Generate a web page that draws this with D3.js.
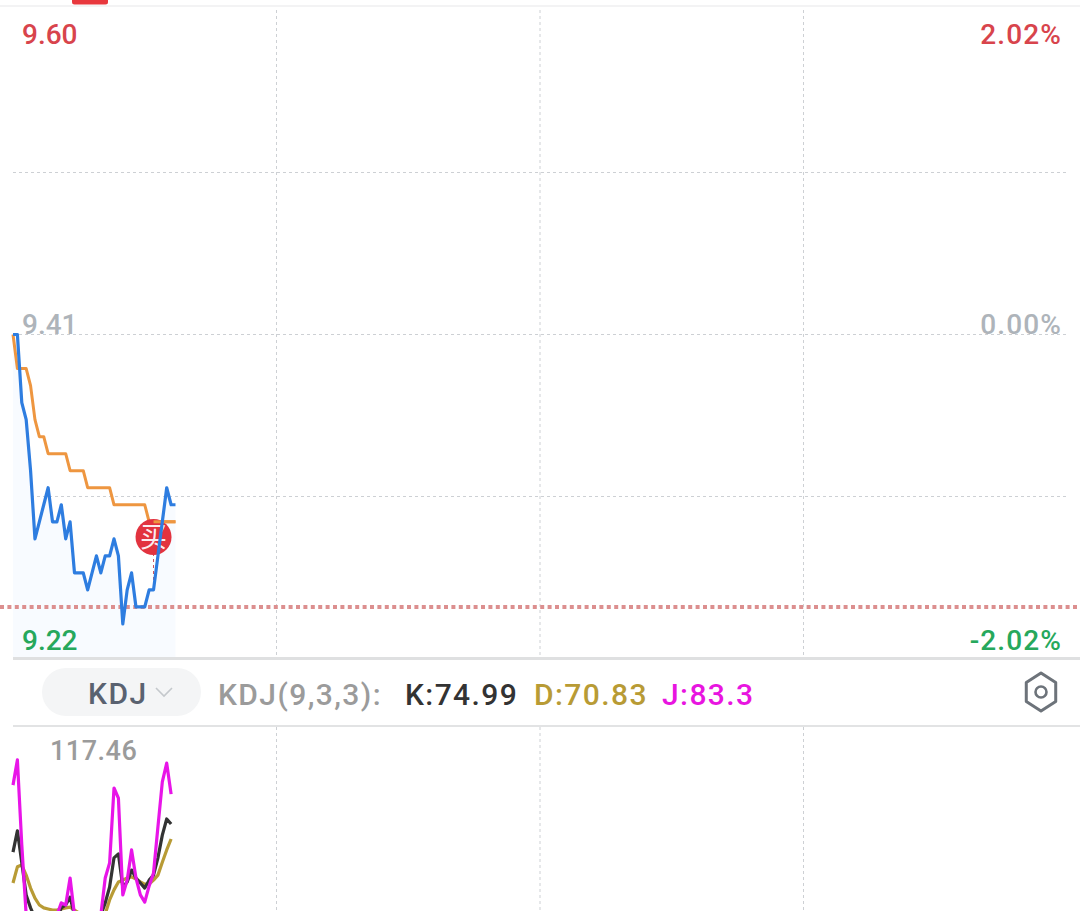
<!DOCTYPE html>
<html><head><meta charset="utf-8">
<script src="https://cdn.jsdelivr.net/npm/d3@7"></script>
<style>html,body{margin:0;padding:0;background:#fff;overflow:hidden}svg{display:block}text{font-family:Roboto,"Noto Sans CJK SC",sans-serif}</style>
</head><body><svg id="c" width="1080" height="911"></svg>
<script>
const priceLine=[9.41,9.41,9.37,9.36,9.33,9.29,9.30,9.31,9.32,9.30,9.30,9.31,9.29,9.30,9.27,9.27,9.27,9.26,9.27,9.28,9.27,9.28,9.28,9.29,9.28,9.24,9.26,9.27,9.25,9.25,9.25,9.26,9.26,9.28,9.30,9.32,9.31,9.31];
const avgLine=[9.41,9.39,9.39,9.39,9.38,9.36,9.35,9.35,9.34,9.34,9.34,9.34,9.34,9.33,9.33,9.33,9.33,9.32,9.32,9.32,9.32,9.32,9.32,9.31,9.31,9.31,9.31,9.31,9.31,9.31,9.31,9.30,9.30,9.30,9.30,9.30,9.30,9.30];
const kValues=[67.2,73.1,64.2,55.3,51.7,48.9,47,46,46,47,48.9,51.7,52.5,54.7,49.7,48,47,46,46,47,49.7,53.1,57.5,65.6,66.7,57.5,58.9,62.2,60,58.6,57.2,59.4,60.8,65.6,71.9,76.4,74.99];
const dValues=[58.6,63.1,63.6,60.8,57.2,54.4,52.5,51.7,51.4,51.1,51.1,51.4,51.7,51.9,51.1,50.3,49.4,48.9,48.9,48.9,49.4,50,53.9,56.7,58.9,59.4,60,60.3,59.7,58.9,58.3,58.3,59.4,60.8,64.4,67.8,70.83];
const jValues=[85.8,92.8,69.2,49.7,45,40,38,38,40,44,49.7,53.1,52.5,60,49.7,45,41,39,41,45,49.7,60,64.2,85,82.2,55.3,59.4,67.8,60,55.3,53.3,57.8,61.4,74.2,86.7,91.9,83.3];
const timeTicks=[60,120,180];
const priceGrid=[9.505,9.41,9.315];
const leftLabels=[["9.60",44,"#d8444c"],["9.41",334,"#aeb4ba"],["9.22",650,"#26a85c"]];
const rightLabels=[["2.02%",44,"#d8444c"],["0.00%",334,"#aeb4ba"],["-2.02%",650,"#26a85c"]];
const lowPrice=9.25, buyIndex=32;

const svg=d3.select("#c");
const x=d3.scaleLinear().domain([0,240]).range([13,1067]);
const y=d3.scaleLinear().domain([9.22,9.60]).range([658,11]);
const yK=d3.scaleLinear().domain([0,100]).range([1094,734]);

// frame
svg.append("rect").attr("x",0).attr("y",5).attr("width",1080).attr("height",2).attr("fill","#f3f3f4");
svg.append("rect").attr("x",72).attr("y",-4).attr("width",36).attr("height",8.5).attr("rx",2.5).attr("fill","#e8383d");

const grid="#cdd0d4";
// vertical grid
timeTicks.forEach(t=>{
  [[10,657],[727,911]].forEach(([a,b])=>svg.append("line").attr("x1",x(t)).attr("x2",x(t)).attr("y1",a).attr("y2",b)
    .attr("stroke",grid).attr("stroke-width",1).attr("stroke-dasharray","3 3"));
});
// horizontal grid
priceGrid.forEach(p=>svg.append("line").attr("x1",13).attr("x2",1067).attr("y1",Math.floor(y(p))+.5).attr("y2",Math.floor(y(p))+.5)
  .attr("stroke",grid).attr("stroke-width",1).attr("stroke-dasharray","3 3"));

// area under price
svg.append("path").datum(priceLine)
  .attr("d",d3.area().x((d,i)=>x(i)).y0(657).y1(d=>y(d)))
  .attr("fill","#f8fbff");

// low price line
svg.append("line").attr("x1",0).attr("x2",1080).attr("y1",y(lowPrice)).attr("y2",y(lowPrice))
  .attr("stroke","#dc8f8f").attr("stroke-width",4).attr("stroke-dasharray","4 3.4");

const lp=d3.line().x((d,i)=>x(i)).y(d=>y(d));
svg.append("path").datum(avgLine).attr("d",lp).attr("fill","none").attr("stroke","#ee9640").attr("stroke-width",3).attr("stroke-linejoin","round");

// buy marker
const mx=x(buyIndex);
svg.append("line").attr("x1",mx).attr("x2",mx).attr("y1",553).attr("y2",y(priceLine[buyIndex]))
  .attr("stroke","#c8505a").attr("stroke-width",1).attr("stroke-dasharray","3 3");
svg.append("circle").attr("cx",mx).attr("cy",537).attr("r",18).attr("fill","#e2333f");
svg.append("text").attr("x",mx).attr("y",547).attr("text-anchor","middle").attr("font-size",27).attr("fill","#fff").attr("fill-opacity",.92)
  .style("font-family",'"Noto Sans CJK SC"').text("买");
// average line continues over the marker from the buy point
svg.append("path").datum(avgLine.slice(buyIndex))
  .attr("d",d3.line().x((d,i)=>x(i+buyIndex)).y(d=>y(d))).attr("fill","none").attr("stroke","#ee9640").attr("stroke-width",3);

svg.append("path").datum(priceLine).attr("d",lp).attr("fill","none").attr("stroke","#2e7de0").attr("stroke-width",3.2).attr("stroke-linejoin","round");

// axis labels
leftLabels.forEach(([t,py,c])=>{
  svg.append("text").attr("x",22).attr("y",py).attr("font-size",28).attr("font-weight",500).attr("fill",c).text(t);
});
rightLabels.forEach(([t,py,c])=>{
  svg.append("text").attr("x",1062).attr("y",py).attr("text-anchor","end").attr("font-size",28).attr("font-weight",500).attr("letter-spacing",1.1).attr("fill",c).text(t);
});

// separators
svg.append("rect").attr("x",13).attr("y",657).attr("width",1067).attr("height",3).attr("fill","#dfe0e1");
svg.append("rect").attr("x",13).attr("y",725).attr("width",1067).attr("height",2).attr("fill","#e2e3e4");

// indicator bar
svg.append("rect").attr("x",42).attr("y",668).attr("width",159).attr("height",48).attr("rx",24).attr("fill","#f4f5f6");
svg.append("text").attr("x",88).attr("y",704).attr("font-size",30).attr("font-weight",500).attr("letter-spacing",1.5).attr("fill","#5a6270").text("KDJ");
svg.append("path").attr("d","M156 688l8 8l8-8").attr("fill","none").attr("stroke","#c4c8cc").attr("stroke-width",1.6);
const legend=[["KDJ(9,3,3):",218,"#9b9b9b"],["K:74.99",405,"#333333"],["D:70.83",534,"#b89b35"],["J:83.3",662,"#e815e0"]];
legend.forEach(([t,lx,c])=>svg.append("text").attr("x",lx).attr("y",705).attr("font-size",30).attr("font-weight",500).attr("letter-spacing",1.4).attr("fill",c).text(t));

// settings icon
const hex=d3.range(6).map(i=>{const a=Math.PI/3*i;return [1041+17*Math.sin(a),692-19*Math.cos(a)]});
svg.append("polygon").attr("points",hex.map(p=>p.join(",")).join(" ")).attr("fill","none").attr("stroke","#6d737a").attr("stroke-width",3).attr("stroke-linejoin","round");
svg.append("circle").attr("cx",1041).attr("cy",692).attr("r",5.5).attr("fill","none").attr("stroke","#6d737a").attr("stroke-width",2.6);

// KDJ panel
svg.append("text").attr("x",50).attr("y",760).attr("font-size",27).attr("font-weight",500).attr("letter-spacing",.5).attr("fill","#9b9b9b").text("117.46");
const lk=d3.line().x((d,i)=>x(i)).y(d=>yK(d));
[[dValues,"#b89b35"],[kValues,"#333333"],[jValues,"#e815e8"]].forEach(([s,c])=>
  svg.append("path").datum(s).attr("d",lk).attr("fill","none").attr("stroke",c).attr("stroke-width",3.2).attr("stroke-linejoin","round"));
</script></body></html>
